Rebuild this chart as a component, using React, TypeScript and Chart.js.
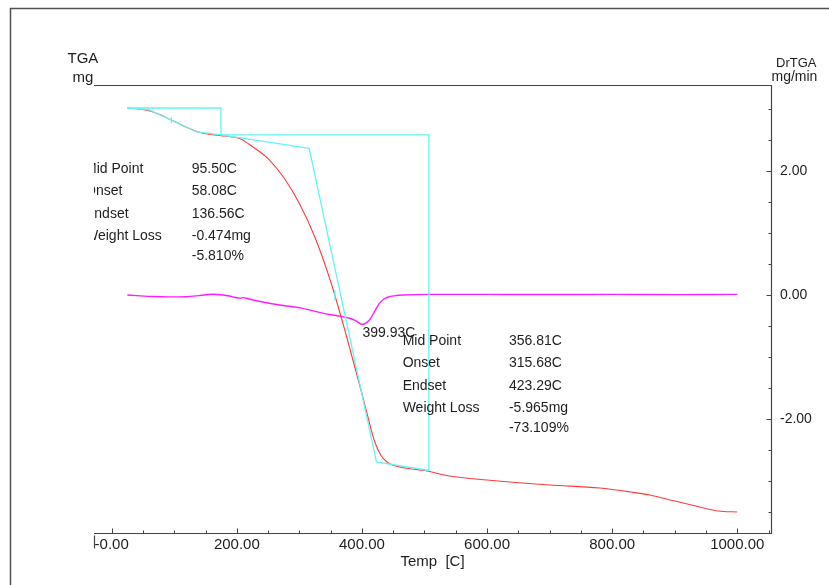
import React, { useEffect, useRef } from 'react';
import { Chart, registerables } from 'chart.js';

Chart.register(...registerables);

// ---- axis ranges ----
const TEMP_MIN = -28.3;
const TEMP_MAX = 1053.9;
const MASS_MIN = 0.598; // TGA, mg (left, unlabelled)
const MASS_MAX = 8.569;
const RATE_MIN = -3.845; // DrTGA, mg/min (right)
const RATE_MAX = 3.393;

// ---- tick values and labels ----
const tempTicks = [0, 50, 100, 150, 200, 250, 300, 350, 400, 450, 500, 550, 600, 650, 700, 750, 800, 850, 900, 950, 1000, 1050];
const tempMajor = [0, 200, 400, 600, 800, 1000];
const tempMajorLabels = ['-0.00', '200.00', '400.00', '600.00', '800.00', '1000.00'];
const rateTicks = [-3.5, -3, -2.5, -2, -1.5, -1, -0.5, 0, 0.5, 1, 1.5, 2, 2.5, 3];
const rateMajor = [-2, 0, 2];
const rateMajorLabels = ['-2.00', '0.00', '2.00'];

// ---- TGA curve ----
const tgaTemp = [25, 40, 58, 75, 95, 115, 136, 155, 175, 190, 205, 220, 235, 250, 275, 300, 325, 350, 375, 400, 410, 420, 430, 440, 460, 480, 500, 540, 600, 700, 780, 830, 860, 900, 940, 970, 1000];
const tgaMass = [8.160, 8.146, 8.116, 8.053, 7.946, 7.840, 7.742, 7.692, 7.667, 7.649, 7.617, 7.511, 7.395, 7.261, 6.923, 6.461, 5.856, 5.073, 4.112, 3.080, 2.644, 2.234, 1.986, 1.861, 1.772, 1.737, 1.710, 1.612, 1.541, 1.452, 1.398, 1.327, 1.274, 1.167, 1.060, 0.989, 0.971];

// ---- DrTGA curve ----
const drTemp = [25, 40, 66, 90, 119, 140, 161, 178, 188, 200, 206, 210, 218, 226, 252, 279, 305, 332, 353, 369, 380, 389, 396, 399.93, 404, 412, 420, 428, 436, 444, 455, 466, 508, 600, 700, 800, 900, 960, 1000];
const drRate = [0, -0.01, -0.025, -0.03, -0.027, -0.01, 0.012, 0, -0.016, -0.045, -0.05, -0.042, -0.06, -0.08, -0.134, -0.177, -0.215, -0.28, -0.323, -0.35, -0.375, -0.41, -0.455, -0.473, -0.465, -0.403, -0.27, -0.134, -0.06, -0.027, -0.008, 0, 0.011, 0.01, 0.008, 0.01, 0.006, 0.008, 0.011];

// ---- weight-loss analysis lines (step 1) ----
const step1BoxTemp = [25.3, 174.6, 174.6];
const step1BoxMass = [8.160, 8.160, 7.680];
const step1TanTemp = [25.3, 58.08, 136.56, 174.6];
const step1TanMass = [8.160, 8.133, 7.733, 7.680];
const step1MidTemp = [95.5, 95.5];
const step1MidMass = [7.995, 7.888];

// ---- weight-loss analysis lines (step 2) ----
const step2BoxTemp = [174.6, 507, 507];
const step2BoxMass = [7.680, 7.680, 1.710];
const step2TanTemp = [174.6, 315.68, 423.29, 507];
const step2TanMass = [7.680, 7.443, 1.861, 1.710];
const step2MidTemp = [356.81, 356.81];
const step2MidMass = [4.92, 4.73];

// ---- result tables ----
const resultLabels = ['Mid Point', 'Onset', 'Endset', 'Weight Loss', ''];
const step1Values = ['95.50C', '58.08C', '136.56C', '-0.474mg', '-5.810%'];
const step2Values = ['356.81C', '315.68C', '423.29C', '-5.965mg', '-73.109%'];
const peakTemp = 399.93;
const peakRate = -0.473;
const peakLabel = '399.93C';

const FONT = '"Liberation Sans", Arial, Helvetica, sans-serif';
const INK = '#1e1e1e';
const AXIS = '#454545';
const ROW_OFFSETS = [0, 22.5, 45, 67.5, 87.5];

const pts = (xs: number[], ys: number[]) => xs.map((x, i) => ({ x, y: ys[i] }));

const cyanLine = (xs: number[], ys: number[]) => ({
  data: pts(xs, ys),
  yAxisID: 'y',
  borderColor: '#62f5f5',
  borderWidth: 1.3,
  pointRadius: 0,
  tension: 0,
  fill: false,
});

const decorations = {
  id: 'decorations',
  afterDatasetsDraw(chart: any) {
    const { ctx, chartArea: a, scales } = chart;
    const x = scales.x;
    const r = scales.y2;
    ctx.save();
    ctx.beginPath();
    ctx.rect(a.left, a.top, a.right - a.left, a.bottom - a.top);
    ctx.clip();
    ctx.fillStyle = INK;
    ctx.font = `14px ${FONT}`;
    ctx.textBaseline = 'middle';
    ctx.textAlign = 'left';

    const blocks = [
      { labelT: -42.7, valueT: 127.9, rate: 2.035, values: step1Values },
      { labelT: 465.1, valueT: 635.0, rate: -0.743, values: step2Values },
    ];
    blocks.forEach((b) => {
      const lx = x.getPixelForValue(b.labelT);
      const vx = x.getPixelForValue(b.valueT);
      const y0 = r.getPixelForValue(b.rate);
      resultLabels.forEach((t, i) => {
        if (t) ctx.fillText(t, lx, y0 + ROW_OFFSETS[i]);
        ctx.fillText(b.values[i], vx, y0 + ROW_OFFSETS[i]);
      });
    });

    const px = x.getPixelForValue(peakTemp);
    const py = r.getPixelForValue(peakRate);
    ctx.fillText(peakLabel, px + 0.5, py + 9);
    ctx.restore();
  },
  afterDraw(chart: any) {
    const { ctx, chartArea: a, scales } = chart;
    const x = scales.x;
    const r = scales.y2;
    ctx.save();

    // outer frame
    ctx.strokeStyle = '#505050';
    ctx.lineWidth = 1.5;
    ctx.beginPath();
    ctx.moveTo(10.5, 585);
    ctx.lineTo(10.5, 8.5);
    ctx.lineTo(829, 8.5);
    ctx.stroke();

    // axis lines
    const L = Math.round(a.left) + 0.5;
    const R = Math.round(a.right) + 0.5;
    const T = Math.round(a.top) + 0.5;
    const B = Math.round(a.bottom) + 0.5;
    ctx.strokeStyle = AXIS;
    ctx.lineWidth = 1.2;
    ctx.beginPath();
    ctx.moveTo(L - 0.5, T);
    ctx.lineTo(R, T);
    ctx.lineTo(R, B);
    ctx.lineTo(L - 0.5, B);
    ctx.moveTo(L, B + 2);
    ctx.lineTo(L, B + 15);
    ctx.stroke();

    // inward tick marks
    ctx.lineWidth = 1;
    ctx.beginPath();
    x.ticks.forEach((t: any) => {
      const p = Math.round(x.getPixelForValue(t.value)) + 0.5;
      const len = tempMajor.includes(t.value) ? 5 : 3;
      ctx.moveTo(p, B);
      ctx.lineTo(p, B - len);
    });
    r.ticks.forEach((t: any) => {
      const p = Math.round(r.getPixelForValue(t.value)) + 0.5;
      const len = rateMajor.includes(t.value) ? 5 : 3;
      ctx.moveTo(R, p);
      ctx.lineTo(R - len, p);
    });
    ctx.stroke();

    // axis headers
    ctx.fillStyle = INK;
    ctx.textBaseline = 'middle';
    ctx.textAlign = 'left';
    ctx.font = `15px ${FONT}`;
    ctx.fillText('TGA', 67.5, 58.5);
    ctx.fillText('mg', 72.5, 77.5);
    ctx.font = `13px ${FONT}`;
    ctx.fillText('DrTGA', 776, 63);
    ctx.font = `14px ${FONT}`;
    ctx.fillText('mg/min', 771.5, 77.5);
    ctx.restore();
  },
};

export default function App() {
  const ref = useRef<HTMLCanvasElement>(null);

  useEffect(() => {
    if (!ref.current) return;
    const chart = new Chart(ref.current, {
      type: 'line',
      data: {
        datasets: [
          cyanLine(step1BoxTemp, step1BoxMass),
          cyanLine(step1TanTemp, step1TanMass),
          cyanLine(step1MidTemp, step1MidMass),
          cyanLine(step2BoxTemp, step2BoxMass),
          cyanLine(step2TanTemp, step2TanMass),
          cyanLine(step2MidTemp, step2MidMass),
          {
            label: 'TGA',
            data: pts(tgaTemp, tgaMass),
            yAxisID: 'y',
            borderColor: '#ff3a3a',
            borderWidth: 1.1,
            pointRadius: 0,
            cubicInterpolationMode: 'monotone',
            fill: false,
          },
          {
            label: 'DrTGA',
            data: pts(drTemp, drRate),
            yAxisID: 'y2',
            borderColor: '#ff1cff',
            borderWidth: 1.4,
            pointRadius: 0,
            cubicInterpolationMode: 'monotone',
            fill: false,
          },
        ] as any,
      },
      plugins: [decorations],
      options: {
        animation: false,
        responsive: false,
        devicePixelRatio: 1,
        events: [],
        layout: { padding: { left: 94, top: 85, right: 0, bottom: 0 } },
        plugins: {
          legend: { display: false },
          tooltip: { enabled: false },
          title: { display: false },
        },
        scales: {
          x: {
            type: 'linear',
            min: TEMP_MIN,
            max: TEMP_MAX,
            grid: { display: false, drawTicks: false },
            border: { display: false },
            afterBuildTicks: (s: any) => {
              s.ticks = tempTicks.map((value) => ({ value }));
            },
            afterFit: (s: any) => {
              s.height = 52;
            },
            ticks: {
              autoSkip: false,
              maxRotation: 0,
              minRotation: 0,
              padding: 3,
              color: INK,
              font: { family: FONT, size: 15 },
              callback: (v: any) => {
                const i = tempMajor.indexOf(Number(v));
                return i >= 0 ? tempMajorLabels[i] : '';
              },
            },
            title: {
              display: true,
              text: 'Temp  [C]',
              color: INK,
              font: { family: FONT, size: 15 },
              padding: { top: 0, bottom: 14 },
            },
          },
          y: {
            type: 'linear',
            display: false,
            min: MASS_MIN,
            max: MASS_MAX,
          },
          y2: {
            type: 'linear',
            position: 'right',
            min: RATE_MIN,
            max: RATE_MAX,
            grid: { display: false, drawTicks: false },
            border: { display: false },
            afterBuildTicks: (s: any) => {
              s.ticks = rateTicks.map((value) => ({ value }));
            },
            afterFit: (s: any) => {
              s.width = 58;
            },
            ticks: {
              autoSkip: false,
              padding: 9,
              color: INK,
              font: { family: FONT, size: 14 },
              callback: (v: any) => {
                const i = rateMajor.indexOf(Number(v));
                return i >= 0 ? rateMajorLabels[i] : '';
              },
            },
          },
        },
      } as any,
    });
    return () => chart.destroy();
  }, []);

  return (
    <canvas
      ref={ref}
      width={829}
      height={585}
      style={{ position: 'fixed', left: 0, top: 0, width: 829, height: 585, background: '#ffffff' }}
    />
  );
}
